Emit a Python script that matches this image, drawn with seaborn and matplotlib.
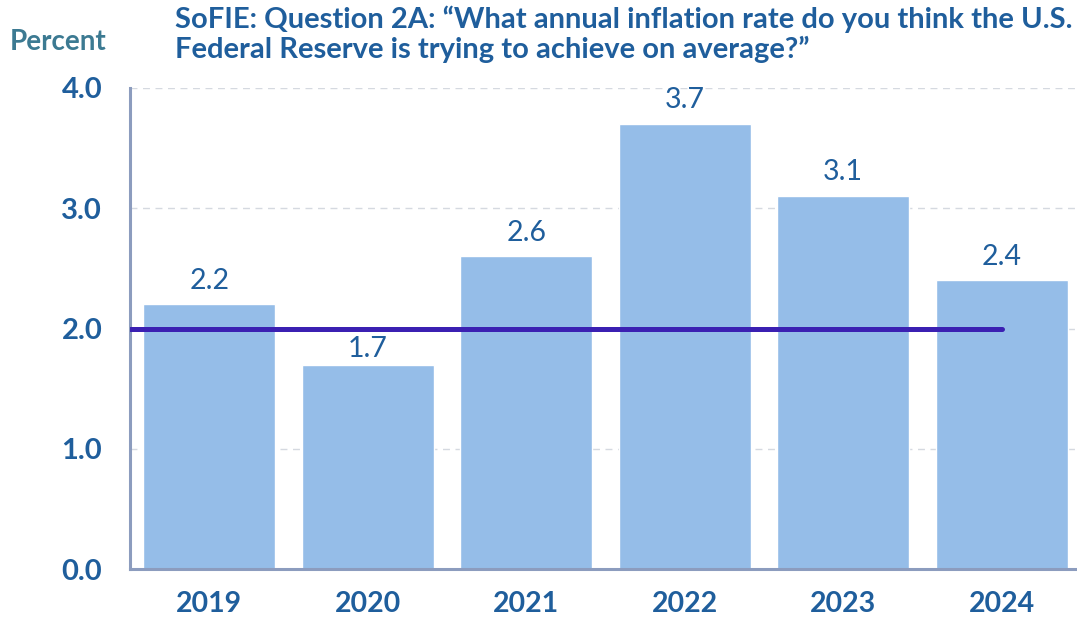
import matplotlib
matplotlib.use("Agg")
import matplotlib.pyplot as plt
import seaborn as sns
import pandas as pd
from matplotlib.ticker import FixedLocator

years = ["2019", "2020", "2021", "2022", "2023", "2024"]
values = [2.2, 1.7, 2.6, 3.7, 3.1, 2.4]
target = 2.0
yticks = [0.0, 1.0, 2.0, 3.0, 4.0]

sns.set_theme(style="white")
plt.rcParams['font.family'] = ['Lato', 'DejaVu Sans']

BAR = "#95BDE8"
TXT = "#1F5E9C"
SPINE = "#8C9CBE"
LINE = "#3B20B2"

df = pd.DataFrame({"year": years, "value": values})

fig = plt.figure(figsize=(10.77, 6.21), dpi=100)
W, H = 1077, 621
left, right = 130, 1081
top, bottom = 88, 569
ax = fig.add_axes([left / W, 1 - bottom / H, (right - left) / W, (bottom - top) / H])

sns.barplot(data=df, x="year", y="value", color=BAR, saturation=1, width=0.83, ax=ax, zorder=2)

ax.set_ylim(0, 4.0)
ax.set_xlim(-0.5, len(years) - 0.5)
ax.set_yticks(yticks)
ax.set_yticklabels([f"{v:.1f}" for v in yticks])
for y in yticks[1:]:
    ax.axhline(y, color="#D5D9E0", lw=1.0, ls=(0, (5, 4)), zorder=1)

ax.plot([-0.5, len(years) - 1], [target, target], color=LINE, lw=3.6,
        solid_capstyle="round", zorder=3)

for i, v in enumerate(values):
    # labels just under the target line sit closer to their bar
    off = 0.02 if v < target else 0.09
    ax.text(i, v + off, f"{v:.1f}", ha="center", va="bottom", fontsize=20.5,
            color=TXT, zorder=4)

for s in ["top", "right"]:
    ax.spines[s].set_visible(False)
for s in ["left", "bottom"]:
    ax.spines[s].set_color(SPINE)
    ax.spines[s].set_linewidth(2.2)

ax.tick_params(axis="y", direction="in", length=9, width=2, color=SPINE,
               labelsize=21, labelcolor=TXT, pad=20)
ax.tick_params(axis="x", which="major", length=0, labelsize=20.5, labelcolor=TXT, pad=16)
ax.xaxis.set_minor_locator(FixedLocator([i + 0.5 for i in range(len(years) - 1)]))
ax.tick_params(axis="x", which="minor", direction="inout", length=14, width=2, color=SPINE)
for lab in ax.get_yticklabels() + ax.get_xticklabels():
    lab.set_fontweight("bold")
ax.set_xlabel("")
ax.set_ylabel("")

fig.text(10 / W, 1 - 42 / H, "Percent", fontsize=20, fontweight="bold",
         color="#3C7A92", ha="left", va="center")
fig.text(175 / W, 1 - 6 / H,
         "SoFIE: Question 2A: \u201cWhat annual inflation rate do you think the U.S.\nFederal Reserve is trying to achieve on average?\u201d",
         fontsize=21, fontweight="bold", color=TXT, ha="left", va="top",
         linespacing=1.1)

fig.savefig("out.png", dpi=100)
